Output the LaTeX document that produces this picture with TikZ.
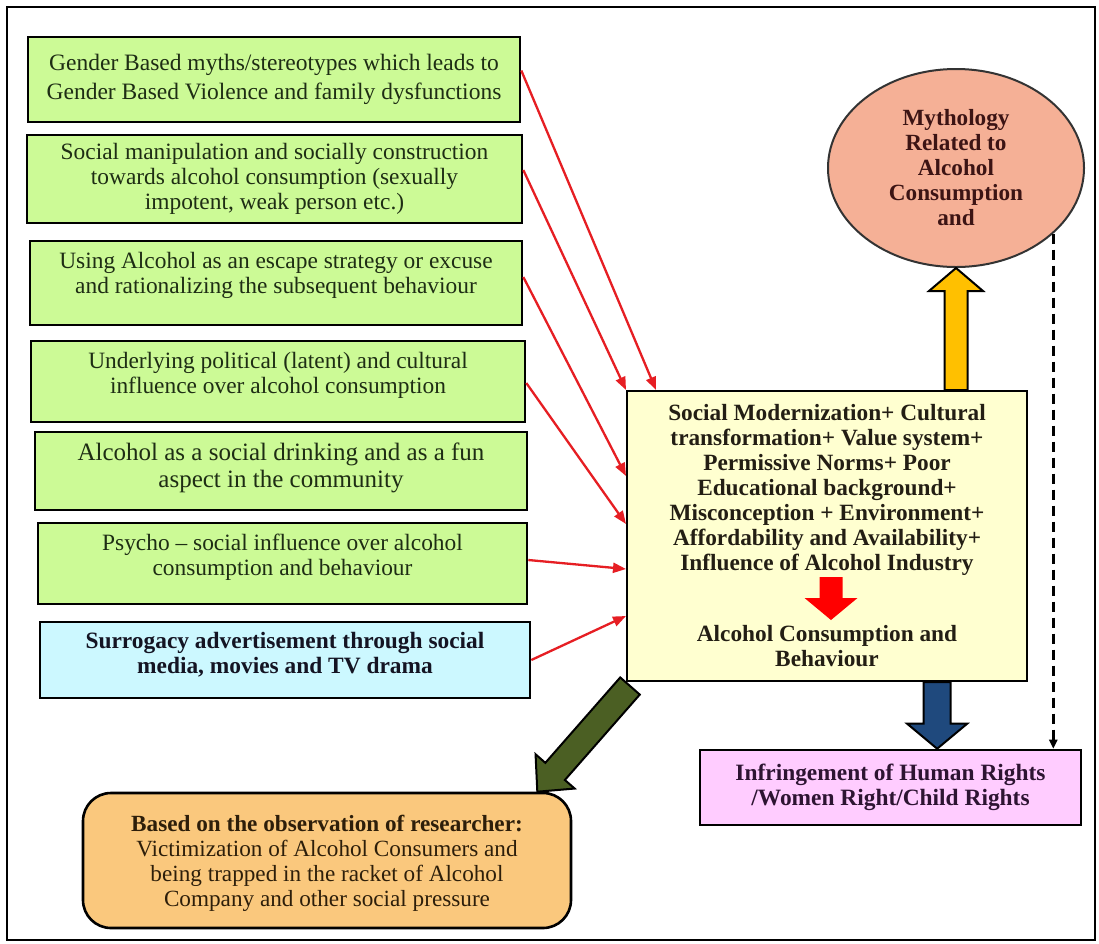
\documentclass[tikz,border=0pt]{standalone}
\usepackage{fontspec}
\setmainfont{Liberation Serif}
\usetikzlibrary{shapes.geometric,arrows.meta,calc}

\definecolor{gfill}{RGB}{204,250,150}
\definecolor{gtext}{RGB}{30,45,20}
\definecolor{cfill}{RGB}{204,248,255}
\definecolor{ctext}{RGB}{20,20,35}
\definecolor{yfill}{RGB}{255,255,208}
\definecolor{ytext}{RGB}{35,30,20}
\definecolor{efill}{RGB}{245,176,150}
\definecolor{etext}{RGB}{60,20,20}
\definecolor{pfill}{RGB}{255,204,255}
\definecolor{ptext}{RGB}{45,20,50}
\definecolor{ofill}{RGB}{250,200,125}
\definecolor{otext}{RGB}{45,30,10}
\definecolor{arrowyellow}{RGB}{255,192,0}
\definecolor{arrowblue}{RGB}{31,73,125}
\definecolor{arrowgreen}{RGB}{75,95,35}
\definecolor{thinred}{RGB}{230,30,35}

% block arrow: #1 start, #2 tip, #3 shaft half width, #4 head half width, #5 head length, #6 style
\newcommand{\blockarrow}[6]{%
  \path ($(#2)!#5!(#1)$) coordinate (ba-h);
  \draw[#6] ($(#1)!#3!90:(#2)$) -- ($(ba-h)!#3!90:(#2)$) -- ($(ba-h)!#4!90:(#2)$) -- (#2)
    -- ($(ba-h)!#4!-90:(#2)$) -- ($(ba-h)!#3!-90:(#2)$) -- ($(#1)!#3!-90:(#2)$) -- cycle;
}

\tikzset{
  basefont/.style={font=\fontsize{23.4}{25}\selectfont},
  gbox/.style={draw=black, line width=2.6pt, fill=gfill, text=gtext, align=center, inner sep=0pt, basefont},
  cbox/.style={draw=black, line width=2.6pt, fill=cfill, text=ctext, align=center, inner sep=0pt, font=\fontsize{23.4}{25}\selectfont\bfseries},
  ybox/.style={draw=black, line width=2pt, fill=yfill, inner sep=0pt},
  ytextnode/.style={text=ytext, align=center, inner sep=0pt, font=\fontsize{23.3}{25}\selectfont\bfseries},
  ellnode/.style={ellipse, draw=black!80, line width=2pt, fill=efill, text=etext, align=center, inner sep=0pt, font=\fontsize{23.2}{25}\selectfont\bfseries},
  pbox/.style={draw=black, line width=2.6pt, fill=pfill, text=ptext, align=center, inner sep=0pt, font=\fontsize{23.4}{25}\selectfont\bfseries},
  obox/.style={draw=black, line width=2.6pt, fill=ofill, text=otext, align=center, inner sep=0pt, rounded corners=28pt, font=\fontsize{23.2}{25}\selectfont},
  redarr/.style={draw=thinred, line width=2.3pt, -{Triangle[length=13pt,width=10pt]}},
  dashline/.style={draw=black, line width=2.5pt, dash pattern=on 10pt off 6pt, -{Triangle[length=9pt,width=8pt]}},
  blockline/.style={draw=black, line width=2pt, line join=miter},
}

\begin{document}
\begin{tikzpicture}[x=1pt,y=-1pt]
\useasboundingbox (0,0) rectangle (1099,943);
\fill[white] (0,0) rectangle (1099,943);
\draw[line width=2pt] (7,7) rectangle (1095,940);

% left boxes
\node[gbox, minimum width=492pt, minimum height=85pt, font=\fontsize{23.5}{29}\selectfont] (b1) at (274,79.5)
  {Gender Based myths/stereotypes which leads to\\Gender Based Violence and family dysfunctions};
\node[gbox, minimum width=495pt, minimum height=88pt] (b2) at (274.5,179)
  {Social manipulation and socially construction\\towards alcohol consumption (sexually\\impotent, weak person etc.)};
\node[gbox, minimum width=492pt, minimum height=84pt, text depth=21pt] (b3) at (276,283)
  {Using Alcohol as an escape strategy or excuse\\and rationalizing the subsequent behaviour};
\node[gbox, minimum width=494pt, minimum height=81pt, text depth=17pt] (b4) at (278,381.5)
  {Underlying political (latent) and cultural\\influence over alcohol consumption};
\node[gbox, minimum width=492pt, minimum height=78pt, font=\fontsize{25}{27}\selectfont, text depth=11pt] (b5) at (281,471)
  {Alcohol as a social drinking and as a fun\\aspect in the community};
\node[gbox, minimum width=489pt, minimum height=81pt, text depth=17pt] (b6) at (282.5,563.5)
  {Psycho -- social influence over alcohol\\consumption and behaviour};
\node[cbox, minimum width=490pt, minimum height=76pt, text depth=15pt] (c7) at (285,660)
  {Surrogacy advertisement through social\\media, movies and TV drama};

% central box
\node[ybox, minimum width=400pt, minimum height=290pt] (ybox) at (827,536) {};
\node[ytextnode] (t1) at (827,490)
  {Social Modernization+ Cultural\\transformation+ Value system+\\Permissive Norms+ Poor\\Educational background+\\Misconception + Environment+\\Affordability and Availability+\\Influence of Alcohol Industry};
\node[ytextnode] (t2) at (827,646.5) {Alcohol Consumption and\\Behaviour};

% ellipse
\node[ellnode, minimum width=256pt, minimum height=198pt] (ell) at (956,168)
  {Mythology\\Related to\\Alcohol\\Consumption\\and};

% pink box
\node[pbox, minimum width=381pt, minimum height=75pt] (pink) at (890.5,787.5)
  {Infringement of Human Rights\\/Women Right/Child Rights};

% orange box
\node[obox, minimum width=488pt, minimum height=135pt, text depth=-3pt] (orange) at (327,860.5)
  {\textbf{Based on the observation of researcher:}\\Victimization of Alcohol Consumers and\\being trapped in the racket of Alcohol\\Company and other social pressure};

% thin red arrows
\draw[redarr] ($(b1.east)+(0,-9)$) -- ($(ybox.north west)+(30,0)$);
\draw[redarr] ($(b2.east)+(0,-9)$) -- (ybox.north west);
\draw[redarr] ($(b3.east)+(0,-6)$) -- ($(ybox.north west)+(0,86)$);
\draw[redarr] ($(b4.east)+(0,1.5)$) -- ($(ybox.north west)+(0,134)$);
\draw[redarr] ($(b6.east)+(0,-3.5)$) -- ($(ybox.north west)+(0,179)$);
\draw[redarr] (c7.east) -- ($(ybox.north west)+(0,226)$);

% dashed connector
\draw[dashline] (ell.-34) -- (ell.-34 |- pink.north);

% block arrows
\coordinate (yS) at (ybox.north -| ell.south);
\blockarrow{yS}{ell.south}{11.5pt}{27pt}{23pt}{blockline, fill=arrowyellow}

\coordinate (rS) at ($(ybox.center)+(4,41)$);
\coordinate (rE) at ($(ybox.center)+(4,84)$);
\blockarrow{rS}{rE}{11.5pt}{26.5pt}{22pt}{fill=red, draw=none}

\coordinate (bS) at ($(ybox.south west)!0.774!(ybox.south east)$);
\coordinate (bE) at (bS |- pink.north);
\blockarrow{bS}{bE}{13.5pt}{30pt}{25pt}{blockline, fill=arrowblue}

\coordinate (gS) at ($(ybox.south west)+(4,4)$);
\coordinate (gE) at ($(orange.north east)+(-35,0)$);
\blockarrow{gS}{gE}{13pt}{26pt}{27pt}{blockline, fill=arrowgreen}
\end{tikzpicture}
\end{document}
